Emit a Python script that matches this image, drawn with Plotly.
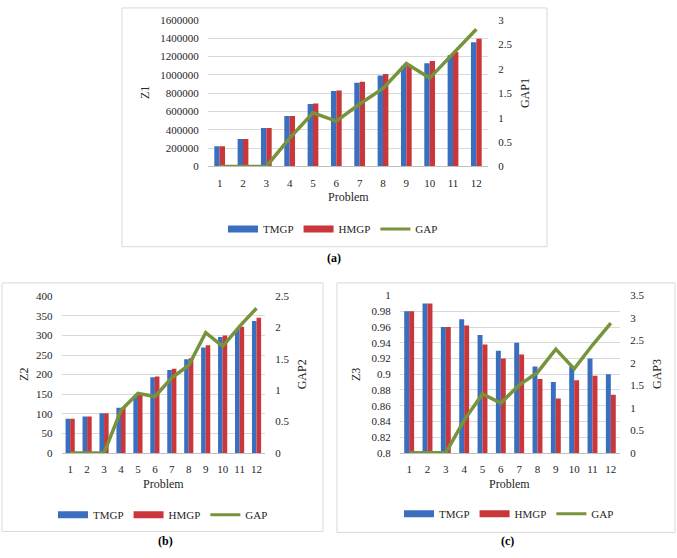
import plotly.graph_objects as go

W, H = 677, 558

problems = list(range(1, 13))

# (a)
z1_tmgp = [220000, 300000, 420000, 550000, 683000, 825000, 914000, 995000, 1100000, 1127000, 1216000, 1358000]
z1_hmgp = [220000, 300000, 420000, 550000, 689000, 830000, 925000, 1010000, 1110000, 1152000, 1251000, 1394000]
gap1 = [0, 0, 0, 0.58, 1.1, 0.93, 1.28, 1.6, 2.11, 1.81, 2.31, 2.81]

# (b)
z2_tmgp = [87, 93, 101, 115, 146, 193, 212, 239, 269, 296, 316, 337]
z2_hmgp = [87, 93, 101, 115, 148, 195, 215, 242, 275, 300, 322, 345]
gap2 = [0, 0, 0, 0.68, 0.95, 0.9, 1.2, 1.4, 1.92, 1.7, 2.02, 2.31]

# (c)
z3_tmgp = [0.98, 0.99, 0.96, 0.97, 0.95, 0.93, 0.94, 0.91, 0.89, 0.91, 0.92, 0.90]
z3_hmgp = [0.98, 0.99, 0.96, 0.962, 0.938, 0.92, 0.925, 0.894, 0.869, 0.8925, 0.898, 0.874]
gap3 = [0, 0, 0, 0.73, 1.31, 1.11, 1.51, 1.79, 2.31, 1.87, 2.4, 2.89]

BLUE = "#3A6EBE"
RED = "#C9373B"
GREEN = "#77933C"
FONT = "Liberation Serif"
TXT = "#262626"


def px(x):
    return x / W


def py(y):
    return 1 - y / H


fig = go.Figure()

panels = [
    dict(x="x", y="y", y2="y2", t=z1_tmgp, h=z1_hmgp, g=gap1, w=0.23, leg="legend"),
    dict(x="x3", y="y3", y2="y4", t=z2_tmgp, h=z2_hmgp, g=gap2, w=0.27, leg="legend2"),
    dict(x="x5", y="y5", y2="y6", t=z3_tmgp, h=z3_hmgp, g=gap3, w=0.27, leg="legend3"),
]

for p in panels:
    fig.add_trace(go.Bar(x=problems, y=p["t"], name="TMGP", marker=dict(color=BLUE, line=dict(width=0)),
                         width=p["w"], offset=-p["w"], xaxis=p["x"], yaxis=p["y"], showlegend=False))
    fig.add_trace(go.Bar(x=problems, y=p["h"], name="HMGP", marker=dict(color=RED, line=dict(width=0)),
                         width=p["w"], offset=0, xaxis=p["x"], yaxis=p["y"], showlegend=False))
    fig.add_trace(go.Scatter(x=problems, y=p["g"], name="GAP", mode="lines",
                             line=dict(color=GREEN, width=3.5), xaxis=p["x"], yaxis=p["y2"],
                             showlegend=False))
    # legend entries (empty traces drawn only in the legend)
    for nm, col, lw in [("TMGP", BLUE, 7), ("HMGP", RED, 7), ("GAP", GREEN, 3)]:
        fig.add_trace(go.Scatter(x=[None], y=[None], name=nm, mode="lines",
                                 line=dict(color=col, width=lw), xaxis=p["x"], yaxis=p["y"],
                                 legend=p["leg"], hoverinfo="skip"))

tickfont = dict(family=FONT, size=11, color=TXT)
GRID = "#D9D9D9"


def xax(domain, anchor):
    return dict(domain=domain, anchor=anchor, range=[0.5, 12.5], tickmode="array",
                tickvals=problems, ticktext=[str(v) for v in problems], showgrid=False,
                showline=True, linecolor="#BFBFBF", linewidth=1, zeroline=False,
                ticks="outside", ticklen=6, tickcolor="rgba(0,0,0,0)", tickfont=tickfont,
                fixedrange=True)


def yax(domain, anchor, rng, dtick, fmt=None):
    d = dict(domain=domain, anchor=anchor, range=rng, dtick=dtick, tick0=rng[0],
             showgrid=True, gridcolor=GRID, gridwidth=1, zeroline=False, showline=False,
             ticks="outside", ticklen=6, tickcolor="rgba(0,0,0,0)", tickfont=tickfont)
    if fmt:
        d["tickformat"] = fmt
    return d


def y2ax(overlay, anchor, rng, dtick):
    return dict(overlaying=overlay, anchor=anchor, side="right", range=rng, dtick=dtick, tick0=0,
                showgrid=False, zeroline=False, showline=False, ticks="outside", ticklen=7,
                tickcolor="rgba(0,0,0,0)", tickfont=tickfont)


layout = dict(
    width=W, height=H, margin=dict(l=0, r=0, t=0, b=0),
    paper_bgcolor="white", plot_bgcolor="white", barmode="overlay",
    font=dict(family=FONT, color=TXT),
    xaxis=xax([px(208), px(488)], "y"),
    yaxis=yax([py(164), py(14.3)], "x", [0, 1600000], 200000, "d"),
    yaxis2=y2ax("y", "x", [0, 3], 0.5),
    xaxis3=xax([px(61.7), px(265)], "y3"),
    yaxis3=yax([py(456.7), py(296.7)], "x3", [0, 400], 50),
    yaxis4=y2ax("y3", "x3", [0, 2.5], 0.5),
    xaxis5=xax([px(400), px(620)], "y5"),
    yaxis5=yax([py(456.7), py(296)], "x5", [0.8, 1.0], 0.02),
    yaxis6=y2ax("y5", "x5", [0, 3.5], 0.5),
)

legfont = dict(family=FONT, size=11, color=TXT)
for name, cx, cy in [("legend", 333, 228), ("legend2", 163, 520), ("legend3", 509, 519)]:
    layout[name] = dict(orientation="h", x=px(cx), y=py(cy), xanchor="center", yanchor="middle",
                        font=legfont, bgcolor="rgba(0,0,0,0)", itemclick=False,
                        itemdoubleclick=False, tracegroupgap=0, itemwidth=30)

fig.update_layout(**layout)

# frames around each chart
for (x0, y0, x1, y1) in [(122, 2, 547, 246), (2, 283, 323, 537), (337, 283, 675, 538)]:
    fig.add_shape(type="rect", xref="paper", yref="paper", x0=px(x0), y0=py(y1), x1=px(x1), y1=py(y0),
                  line=dict(color="#D9D9D9", width=1), fillcolor="rgba(0,0,0,0)", layer="below")

titlefont = dict(family=FONT, size=12, color=TXT)
anns = [
    ("Z1", 145, 89, -90), ("GAP1", 525, 89, -90), ("Problem", 348, 195, 0),
    ("Z2", 23.3, 376.7, -90), ("GAP2", 301.7, 376.7, -90), ("Problem", 163, 488.3, 0),
    ("Z3", 356.7, 376.4, -90), ("GAP3", 657.7, 376.4, -90), ("Problem", 510, 488.3, 0),
]
for text, x, y, ang in anns:
    fig.add_annotation(text=text, x=px(x), y=py(y), xref="paper", yref="paper", showarrow=False,
                       textangle=ang, font=titlefont, xanchor="center", yanchor="middle")

for text, x, y in [("(a)", 334, 258), ("(b)", 165, 547), ("(c)", 507, 547)]:
    fig.add_annotation(text="<b>" + text + "</b>", x=px(x), y=py(y), xref="paper", yref="paper",
                       showarrow=False, font=dict(family=FONT, size=12, color="#000000"),
                       xanchor="center", yanchor="middle")

fig.write_html("out.html", config={"displayModeBar": False},
               post_script="document.body.style.margin='0';document.body.style.overflow='hidden';")
